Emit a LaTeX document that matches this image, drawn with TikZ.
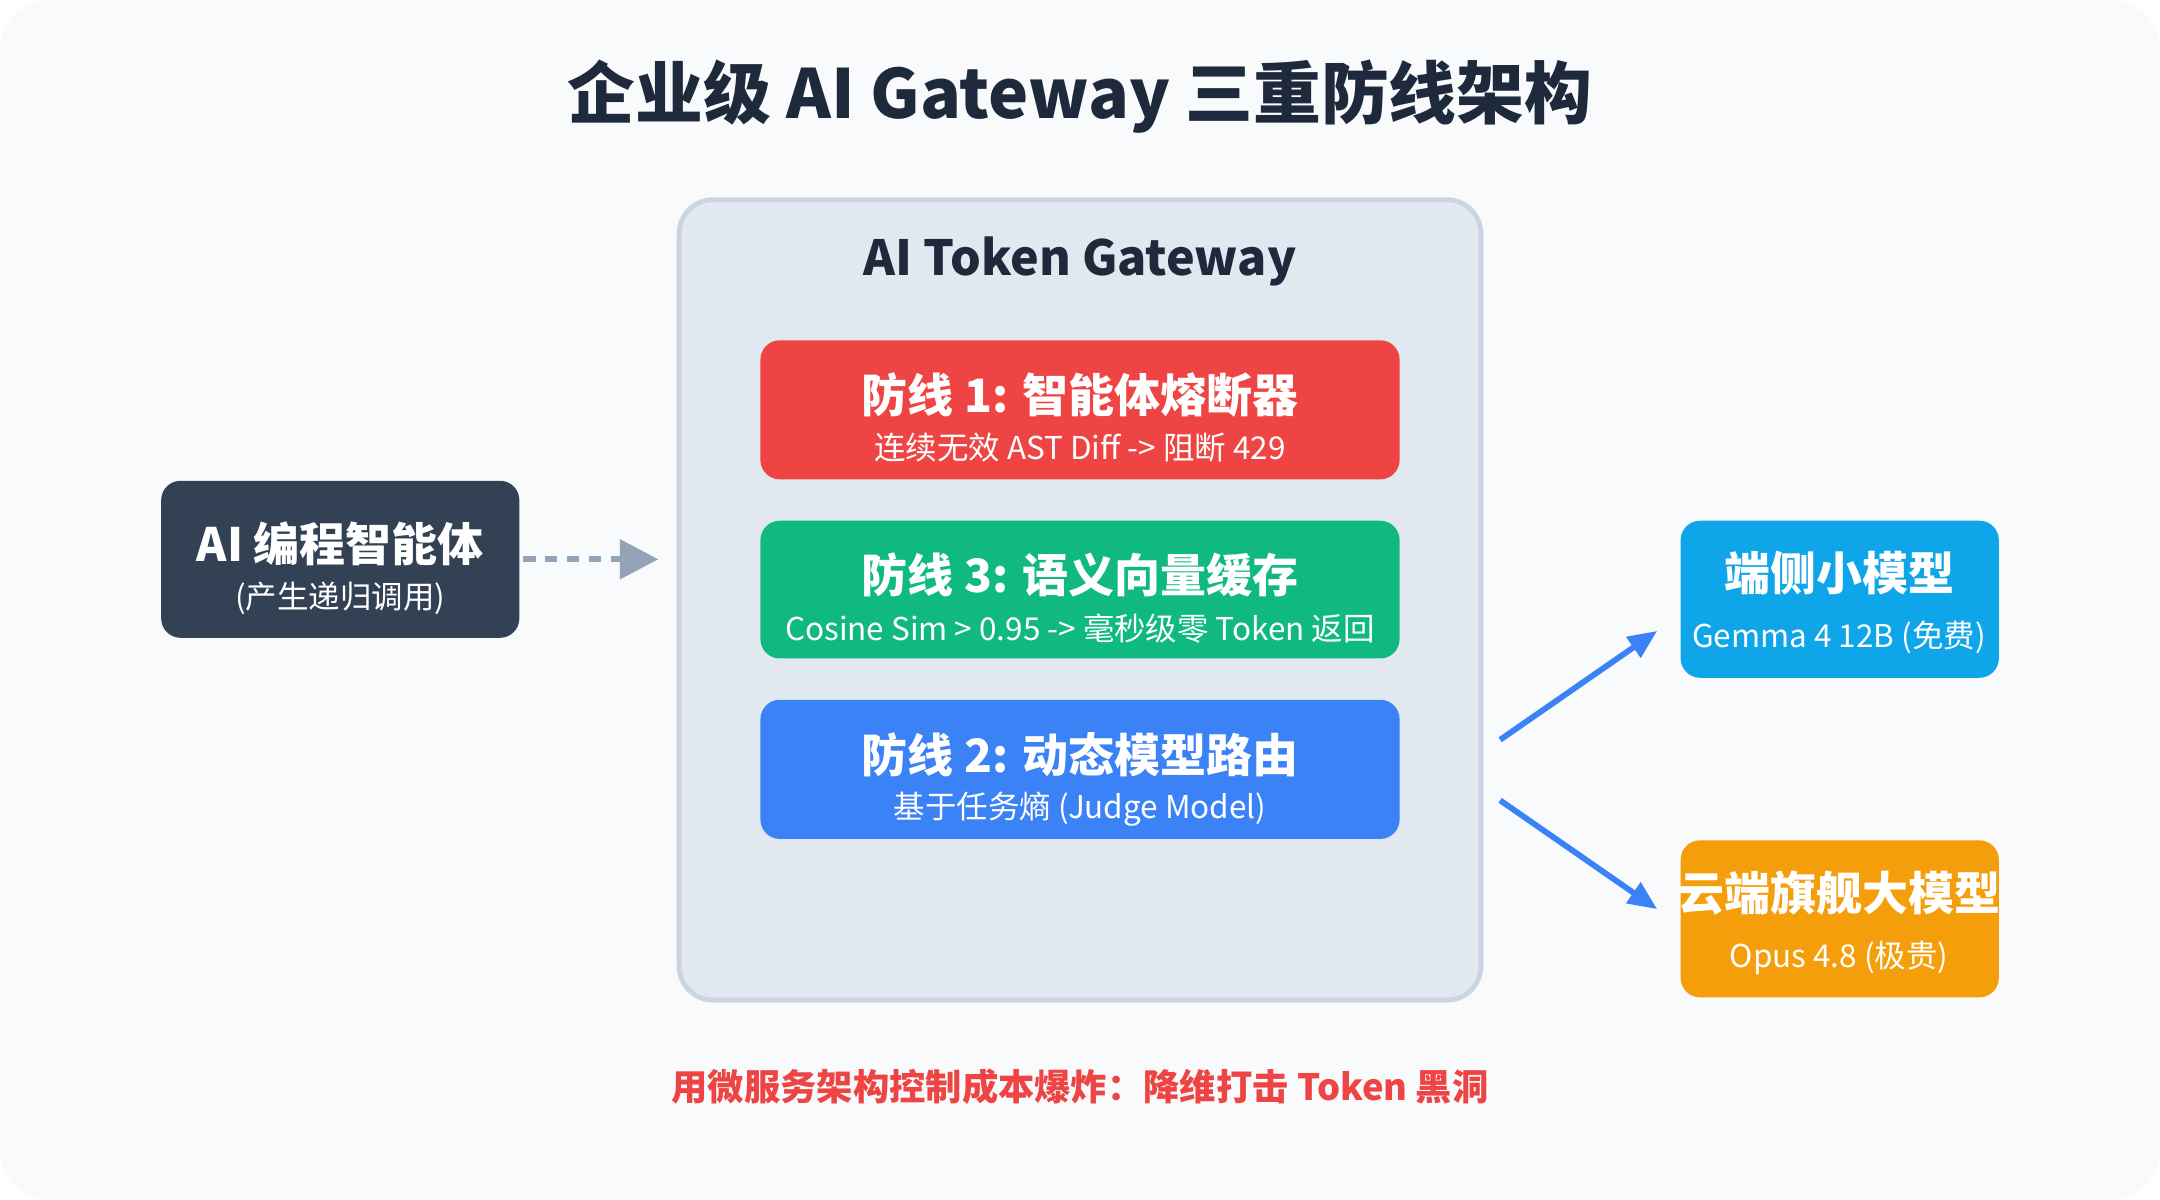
\documentclass[tikz,border=0pt]{standalone}
\usepackage{fontspec}
\setmainfont{Noto Sans CJK SC}
\usetikzlibrary{arrows.meta}
\definecolor{bgc}{HTML}{F8FAFC}
\definecolor{ink}{HTML}{1E293B}
\definecolor{gwfill}{HTML}{E2E8F0}
\definecolor{gwline}{HTML}{CBD5E1}
\definecolor{redc}{HTML}{EF4444}
\definecolor{greenc}{HTML}{10B981}
\definecolor{bluec}{HTML}{3B82F6}
\definecolor{slatec}{HTML}{334155}
\definecolor{skyc}{HTML}{0EA5E9}
\definecolor{amberc}{HTML}{F59E0B}
\definecolor{grayc}{HTML}{94A3B8}
\tikzset{
  layer/.style={rounded corners=8pt},
  ttl/.style={text=white,font=\bfseries\fontsize{19}{22}\selectfont},
  sub/.style={text=white,font=\fontsize{13}{16}\selectfont},
}
\begin{document}
\begin{tikzpicture}[x=0.02cm,y=-0.02cm]
\fill[bgc,rounded corners=20pt] (0,0) rectangle (1568,871);
\useasboundingbox (0,0) rectangle (1568,871);

\node[text=ink,font=\bfseries\fontsize{28}{32}\selectfont] (title) at (784,70) {企业级 AI Gateway 三重防线架构};

%---------------------------------------------------
%gateway
\draw[gwline,line width=2pt,fill=gwfill,rounded corners=14pt] (493,145) rectangle (1075,726);
\coordinate (gwin) at (478,406);
\coordinate (gwup) at (1089,537);
\coordinate (gwdn) at (1089,581);
\node[text=ink,font=\bfseries\fontsize{20}{24}\selectfont] (gwtitle) at (784,190) {AI Token Gateway};

\fill[redc,layer] (552,247) rectangle (1016,348);
\node[ttl] (l1) at (784,287) {防线 1: 智能体熔断器};
\node[sub] (l1s) at (784,325) {连续无效 AST Diff -> 阻断 429};

\fill[greenc,layer] (552,378) rectangle (1016,478);
\node[ttl] (l3) at (784,417) {防线 3: 语义向量缓存};
\node[sub] (l3s) at (784,456) {Cosine Sim > 0.95 -> 毫秒级零 Token 返回};

\fill[bluec,layer] (552,508) rectangle (1016,609);
\node[ttl] (l2) at (784,548) {防线 2: 动态模型路由};
\node[sub] (l2s) at (784,587) {基于任务熵 (Judge Model)};

%---------------------------------------------------
%agent
\fill[slatec,layer] (117,349) rectangle (377,463);
\node[ttl] (agent) at (247,395) {AI 编程智能体};
\node[sub] (agents) at (247,434) {(产生递归调用)};
\coordinate (agentout) at (380,406);
\draw[grayc,line width=2.6pt,dash pattern=on 5pt off 4pt,-{Triangle[width=16pt,length=16pt]}] (agentout) -- (gwin);

%---------------------------------------------------
%models
\fill[skyc,layer] (1220,378) rectangle (1451,492);
\node[ttl] (edge) at (1335,416) {端侧小模型};
\node[sub] (edges) at (1335,463) {Gemma 4 12B (免费)};
\coordinate (edgein) at (1203,458);

\fill[amberc,layer] (1220,610) rectangle (1451,724);
\node[ttl] (cloud) at (1335,648) {云端旗舰大模型};
\node[sub] (clouds) at (1335,695) {Opus 4.8 (极贵)};
\coordinate (cloudin) at (1203,660);

\draw[bluec,line width=2.4pt,-{Triangle[width=10pt,length=12pt]}] (gwup) -- (edgein);
\draw[bluec,line width=2.4pt,-{Triangle[width=10pt,length=12pt]}] (gwdn) -- (cloudin);

\node[text=redc,font=\bfseries\fontsize{15}{18}\selectfont] (note) at (784,789) {用微服务架构控制成本爆炸：降维打击 Token 黑洞};
\end{tikzpicture}
\end{document}
